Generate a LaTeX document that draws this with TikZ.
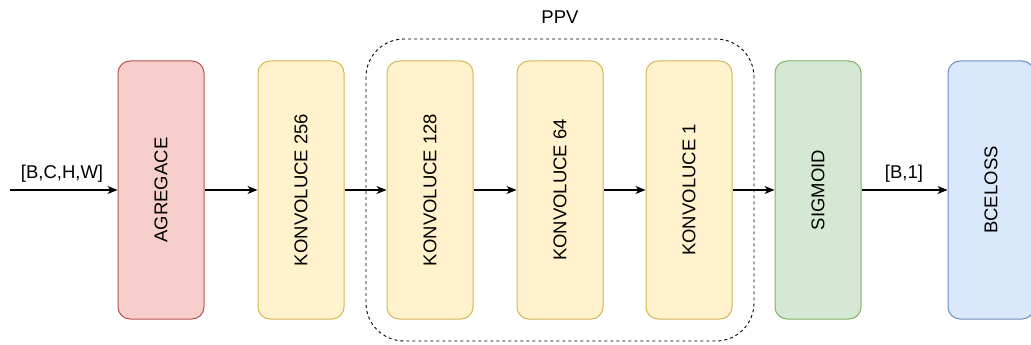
\documentclass[tikz,border=0pt]{standalone}
\usepackage{fontspec}
\setmainfont{Liberation Sans}
\usetikzlibrary{arrows.meta}
\definecolor{redfill}{HTML}{F8CECC}\definecolor{redline}{HTML}{B85450}
\definecolor{yelfill}{HTML}{FFF2CC}\definecolor{yelline}{HTML}{D6B656}
\definecolor{grnfill}{HTML}{D5E8D4}\definecolor{grnline}{HTML}{82B366}
\definecolor{blufill}{HTML}{DAE8FC}\definecolor{bluline}{HTML}{6C8EBF}
\begin{document}
\begin{tikzpicture}[x=1pt,y=-1pt,
  font=\fontsize{18.5}{22}\selectfont,
  layer/.style={draw, line width=1pt, rounded corners=12pt, rotate=90,
    minimum width=258pt, minimum height=86pt, inner sep=0pt},
  redbox/.style={layer, fill=redfill, draw=redline},
  yelbox/.style={layer, fill=yelfill, draw=yelline},
  grnbox/.style={layer, fill=grnfill, draw=grnline},
  blubox/.style={layer, fill=blufill, draw=bluline},
  flow/.style={-{Stealth[length=10pt,width=8pt,inset=3pt]}, line width=1.1pt},
  group/.style={draw, dashed, line width=0.9pt, rounded corners=38pt},
  tag/.style={inner sep=0pt}]
\useasboundingbox (0,0) rectangle (1031,345);

% dashed frame around the PPV block
\draw[group] (366,39) rectangle (754,341);
\node[tag] (ppv) at (560,17) {PPV};

% processing stages
\node[redbox] (agg)  at (161,190) {AGREGACE};
\node[yelbox] (k256) at (301,190) {KONVOLUCE 256};
\node[yelbox] (k128) at (430,190) {KONVOLUCE 128};
\node[yelbox] (k64)  at (560,190) {KONVOLUCE 64};
\node[yelbox] (k1)   at (689,190) {KONVOLUCE 1};
\node[grnbox] (sig)  at (818,190) {SIGMOID};
\node[blubox] (bce)  at (991,190) {BCELOSS};

% connections
\coordinate (in) at (10,190);
\draw[flow] (in) -- (agg);
\draw[flow] (agg) -- (k256);
\draw[flow] (k256) -- (k128);
\draw[flow] (k128) -- (k64);
\draw[flow] (k64) -- (k1);
\draw[flow] (k1) -- (sig);
\draw[flow] (sig) -- (bce);

% tensor shapes
\node[tag] (inshape)  at (62,174) {[B,C,H,W]};
\node[tag] (outshape) at (904,174) {[B,1]};
\end{tikzpicture}
\end{document}
